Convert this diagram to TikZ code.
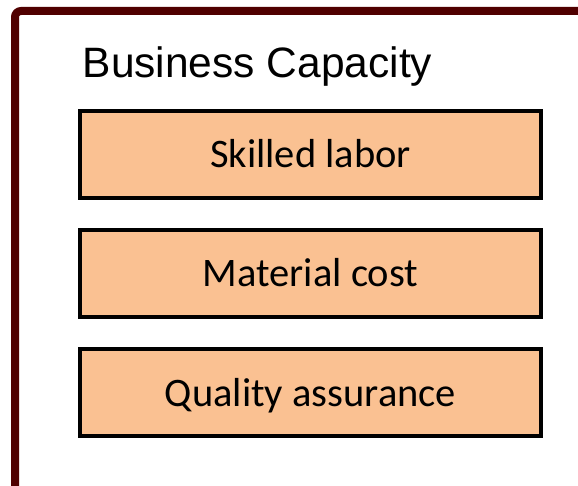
\documentclass[tikz,border=0pt]{standalone}
\usepackage{fontspec}
\setmainfont{Carlito}
\newfontfamily\titlefont{Liberation Sans}
\usetikzlibrary{
    calc,
    positioning
}
\definecolor{framered}{RGB}{80,0,0}
\definecolor{boxorange}{RGB}{250,193,146}
\tikzset{
    every picture/.style = {
        x = 1pt,
        y = 1pt
    },
    factor/.style = {
        draw = black,
        line width = 4pt,
        fill = boxorange,
        minimum width = 461pt,
        minimum height = 87pt,
        inner sep = 0pt,
        text height = 27pt,
        text depth = 0pt,
        font = \fontsize{40.5}{42}\selectfont
    },
    heading/.style = {
        inner sep = 0pt,
        font = \titlefont\fontsize{42.5}{44}\selectfont
    }
}

\begin{document}
\begin{tikzpicture}[node distance = 28pt]
    \useasboundingbox (0,0) rectangle (578,-486);
    % frame
    \draw[framered, line width = 8pt, rounded corners = 6pt] (15,-490) -- (15,-11) -- (580,-11);
    % capacity factors
    \node[factor] (skill) at (310.5,-154.5) {Skilled labor};
    \node[factor] [below = of skill] (material) {Material cost};
    \node[factor] [below = of material] (quality) {Quality assurance};
    \node[heading, anchor = base west] (title) at ([xshift = 4.5pt, yshift = 31pt] skill.north west) {Business Capacity};
\end{tikzpicture}
\end{document}
